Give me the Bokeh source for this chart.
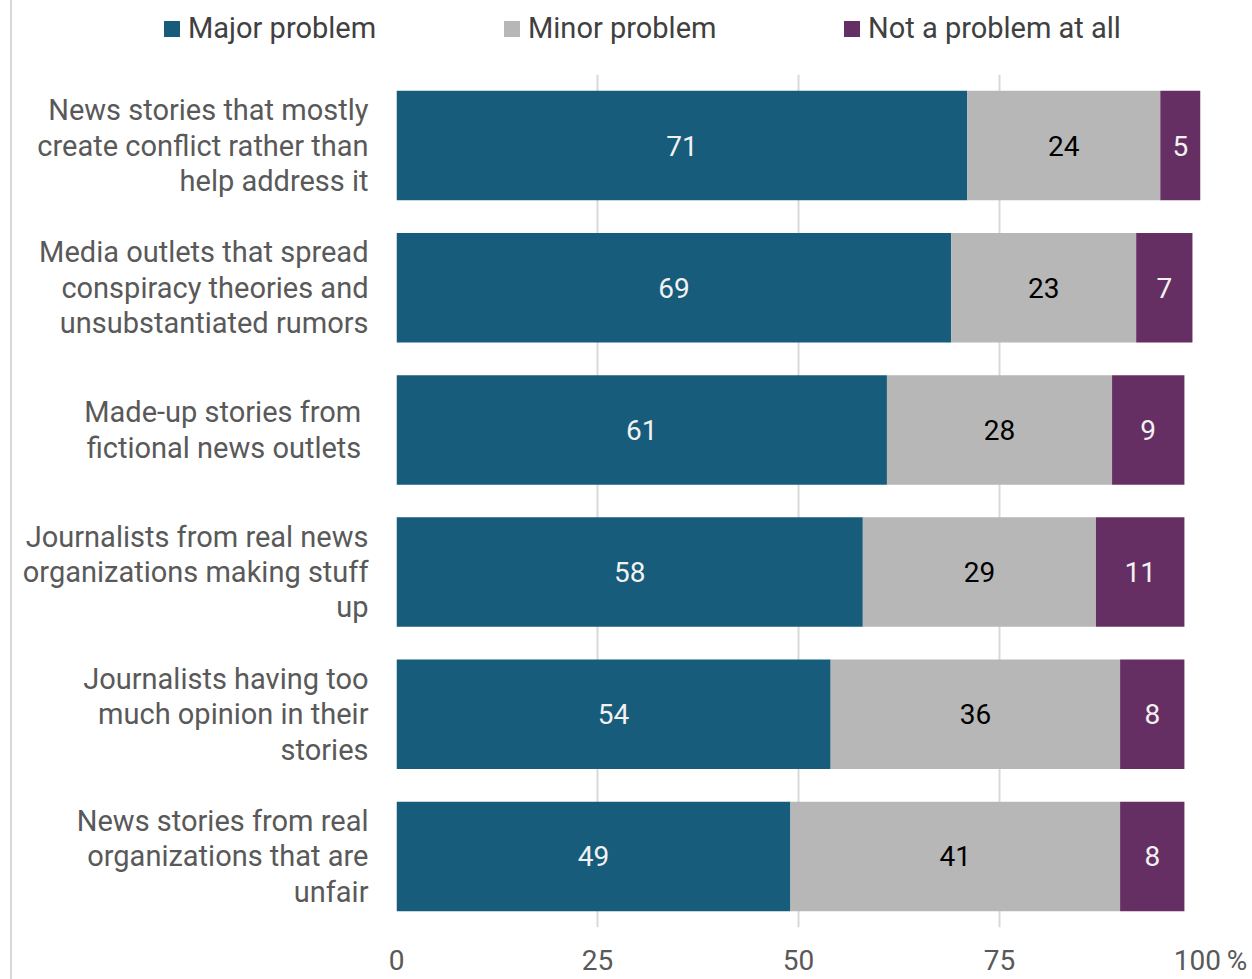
import numpy as np
from bokeh.plotting import figure
from bokeh.models import ColumnDataSource, FactorRange, FixedTicker, Div
from bokeh.layouts import row, column
from bokeh.core.properties import value
from bokeh.embed import file_html
from bokeh.resources import INLINE

categories = [
    "News stories that mostly\ncreate conflict rather than\nhelp address it",
    "Media outlets that spread\nconspiracy theories and\nunsubstantiated rumors",
    "Made-up stories from \nfictional news outlets ",
    "Journalists from real news\norganizations making stuff\nup",
    "Journalists having too\nmuch opinion in their\nstories",
    "News stories from real\norganizations that are\nunfair",
]
major = [71, 69, 61, 58, 54, 49]
minor = [24, 23, 28, 29, 36, 41]
not_problem = [5, 7, 9, 11, 8, 8]
series_names = ["Major problem", "Minor problem", "Not a problem at all"]
colors = ["#175c7b", "#b7b7b7", "#662f63"]
x_ticks = [0, 25, 50, 75, 100]
x_tick_labels = {0: "0", 25: "25", 50: "50", 75: "75", 100: "\u2002\u2009100\u2009%"}

FONT = "Roboto"
LEG_H = 60

src = ColumnDataSource(dict(cat=categories, major=major, minor=minor, none=not_problem))

p = figure(
    width=1240, height=979 - LEG_H,
    y_range=FactorRange(*reversed(categories)),
    x_range=(0, 100),
    output_backend="svg", toolbar_location=None,
    min_border_left=384, min_border_right=52, min_border_top=74 - LEG_H, min_border_bottom=51,
)
p.y_range.range_padding = 0
p.outline_line_color = None

p.hbar_stack(["major", "minor", "none"], y="cat", height=0.77, color=colors,
             source=src, line_color=None)

# data labels
maj = np.array(major, dtype=float)
mnr = np.array(minor, dtype=float)
nop = np.array(not_problem, dtype=float)
lab_src = ColumnDataSource(dict(
    x=list(maj / 2) + list(maj + mnr / 2) + list(maj + mnr + nop / 2),
    y=categories * 3,
    t=[str(v) for v in major + minor + not_problem],
    c=["#f2f2f2"] * 6 + ["#000000"] * 6 + ["#f2f2f2"] * 6,
))
p.text(x="x", y="y", text="t", text_color="c", source=lab_src,
       text_align="center", text_baseline="middle",
       text_font=value(FONT), text_font_size="28px")

# axes
p.xaxis.ticker = FixedTicker(ticks=x_ticks)
p.xaxis.major_label_overrides = x_tick_labels
p.xaxis.axis_line_color = None
p.xaxis.major_tick_line_color = None
p.xaxis.minor_tick_line_color = None
p.xaxis.major_tick_out = 0
p.xaxis.major_tick_in = 0
p.xaxis.minor_tick_out = 0
p.xaxis.major_label_text_font = FONT
p.xaxis.major_label_text_font_size = "28px"
p.xaxis.major_label_text_color = "#595959"
p.xaxis.major_label_standoff = 16

p.yaxis.axis_line_color = None
p.yaxis.major_tick_line_color = None
p.yaxis.major_label_text_font = FONT
p.yaxis.major_label_text_font_size = "29px"
p.yaxis.major_label_text_color = "#595959"
p.yaxis.major_label_text_line_height = 1.04
p.yaxis.major_label_standoff = 22

p.xgrid.grid_line_color = "#d9d9d9"
p.xgrid.grid_line_width = 2
p.ygrid.grid_line_color = None

# legend (HTML, above the plot)
parts = []
for i, (name, col) in enumerate(zip(series_names, colors)):
    parts.append(
        f'<div style="position:absolute;left:{152 + 340 * i}px;top:13px;height:32px;'
        f'display:flex;align-items:center;white-space:nowrap;">'
        f'<span style="display:inline-block;width:16px;height:16px;background:{col};'
        f'margin-right:8px;"></span>{name}</div>'
    )
legend_html = (
    f'<div style="position:relative;width:1240px;height:{LEG_H}px;'
    f'font-family:Roboto;font-size:29px;color:#404040;">' + "".join(parts) + "</div>"
)
legend_div = Div(text=legend_html, width=1240, height=LEG_H, margin=0)

edge = Div(width=12, height=979, margin=0,
           styles={"border-right": "2px solid #d9d9d9", "box-sizing": "border-box"})
layout = row(edge, column(legend_div, p))

open("out.html", "w").write(file_html(layout, INLINE))
